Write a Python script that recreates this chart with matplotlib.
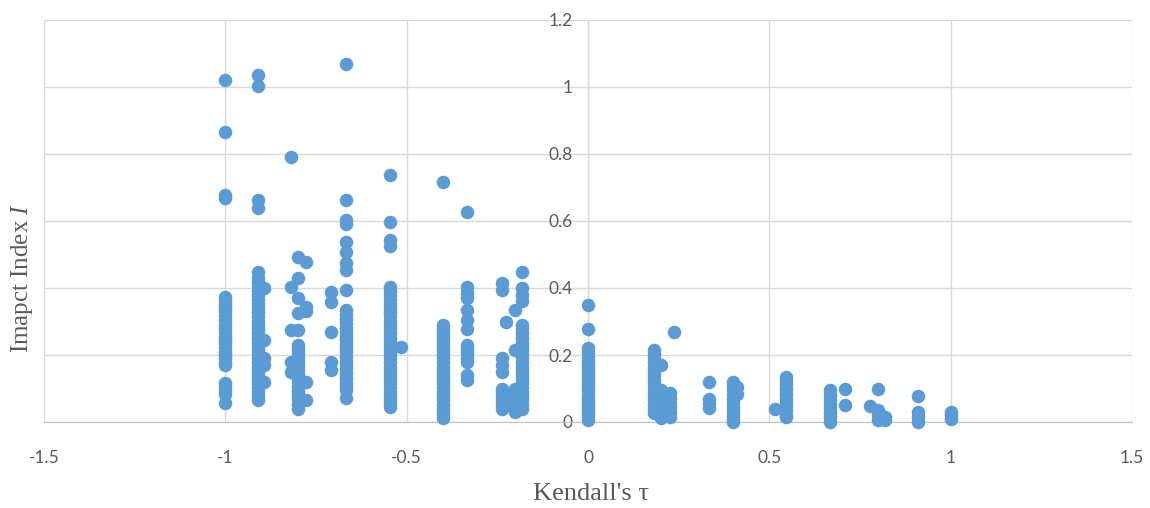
import matplotlib
matplotlib.use("Agg")
import matplotlib.pyplot as plt

# Kendall's tau columns and the impact index values.
tau_levels = [-1.0, -0.909, -0.893, -0.818, -0.8, -0.778, -0.71, -0.667,
              -0.545, -0.515, -0.4, -0.333, -0.236, -0.225, -0.2, -0.182,
              0.0, 0.182, 0.2, 0.225, 0.236, 0.333, 0.4, 0.41, 0.515,
              0.545, 0.667, 0.71, 0.778, 0.8, 0.818, 0.909, 1.0]

impact_m100 = [1.02, 0.867, 0.678, 0.669, 0.374, 0.362, 0.35, 0.34, 0.33, 0.318, 0.305,
               0.29, 0.28, 0.268, 0.255, 0.245, 0.235, 0.222, 0.21, 0.20, 0.19, 0.18,
               0.17, 0.115, 0.105, 0.095, 0.085, 0.056]
impact_m091 = [1.036, 1.004, 0.663, 0.639, 0.449, 0.43, 0.418, 0.405, 0.39, 0.378, 0.365,
               0.352, 0.34, 0.328, 0.315, 0.302, 0.29, 0.278, 0.265, 0.252, 0.24, 0.228,
               0.215, 0.202, 0.19, 0.178, 0.165, 0.152, 0.14, 0.128, 0.115, 0.102, 0.09,
               0.078, 0.066]
impact_m089 = [0.399, 0.245, 0.19, 0.17, 0.12]
impact_m082 = [0.79, 0.404, 0.275, 0.18, 0.15]
impact_m080 = [0.494, 0.43, 0.37, 0.324, 0.275, 0.23, 0.218, 0.205, 0.192, 0.18, 0.168,
               0.155, 0.142, 0.13, 0.118, 0.105, 0.092, 0.08, 0.068, 0.055, 0.04]
impact_m078 = [0.478, 0.344, 0.33, 0.12, 0.066]
impact_m071 = [0.389, 0.359, 0.27, 0.18, 0.155]
impact_m067 = [1.069, 0.663, 0.603, 0.59, 0.538, 0.508, 0.474, 0.454, 0.394, 0.334,
               0.32, 0.308, 0.295, 0.282, 0.27, 0.258, 0.245, 0.232, 0.22, 0.208, 0.195,
               0.182, 0.17, 0.158, 0.145, 0.132, 0.12, 0.108, 0.095, 0.071]
impact_m055 = [0.737, 0.598, 0.543, 0.525, 0.404, 0.39, 0.378, 0.365, 0.352, 0.34, 0.328,
               0.315, 0.302, 0.29, 0.278, 0.265, 0.252, 0.24, 0.228, 0.215, 0.202, 0.19,
               0.178, 0.165, 0.152, 0.14, 0.128, 0.115, 0.102, 0.09, 0.078, 0.065, 0.055,
               0.046]
impact_m052 = [0.225]
impact_m040 = [0.717, 0.29, 0.278, 0.265, 0.252, 0.24, 0.228, 0.215, 0.202, 0.19, 0.178,
               0.165, 0.152, 0.14, 0.128, 0.115, 0.102, 0.09, 0.078, 0.065, 0.052, 0.04,
               0.028, 0.011]
impact_m033 = [0.628, 0.404, 0.385, 0.369, 0.334, 0.304, 0.279, 0.23, 0.218, 0.205,
               0.192, 0.18, 0.14, 0.125]
impact_m024 = [0.415, 0.395, 0.19, 0.17, 0.15, 0.10, 0.09, 0.08, 0.07, 0.06, 0.05, 0.04]
impact_m023 = [0.30]
impact_m020 = [0.334, 0.215, 0.10, 0.088, 0.075, 0.062, 0.05, 0.04, 0.03]
impact_m018 = [0.449, 0.399, 0.38, 0.36, 0.29, 0.278, 0.265, 0.252, 0.24, 0.228, 0.215,
               0.202, 0.19, 0.178, 0.165, 0.152, 0.14, 0.128, 0.115, 0.102, 0.09, 0.078,
               0.065, 0.052, 0.04]
impact_p000 = [0.350, 0.277, 0.22, 0.208, 0.195, 0.182, 0.17, 0.158, 0.145, 0.132, 0.12,
               0.108, 0.095, 0.082, 0.07, 0.058, 0.045, 0.032, 0.02, 0.005]
impact_p018 = [0.215, 0.202, 0.19, 0.178, 0.165, 0.152, 0.14, 0.128, 0.115, 0.102, 0.09,
               0.078, 0.065, 0.052, 0.04, 0.026]
impact_p020 = [0.17, 0.095, 0.08, 0.065, 0.05, 0.035, 0.022, 0.012]
impact_p023 = [0.086, 0.072, 0.058, 0.045, 0.03, 0.016]
impact_p024 = [0.27]
impact_p033 = [0.12, 0.07, 0.055, 0.041]
impact_p040 = [0.12, 0.108, 0.095, 0.082, 0.07, 0.058, 0.045, 0.032, 0.02, 0.008, 0.0]
impact_p041 = [0.105, 0.085]
impact_p052 = [0.038]
impact_p055 = [0.135, 0.122, 0.11, 0.098, 0.085, 0.072, 0.06, 0.048, 0.035, 0.022, 0.016]
impact_p067 = [0.096, 0.082, 0.068, 0.055, 0.042, 0.028, 0.015, 0.001]
impact_p071 = [0.098, 0.051]
impact_p078 = [0.048]
impact_p080 = [0.098, 0.036, 0.02, 0.005]
impact_p082 = [0.016, 0.006]
impact_p091 = [0.078, 0.03, 0.015, 0.001]
impact_p100 = [0.03, 0.02, 0.01]

impact_columns = [impact_m100, impact_m091, impact_m089, impact_m082, impact_m080,
                  impact_m078, impact_m071, impact_m067, impact_m055, impact_m052,
                  impact_m040, impact_m033, impact_m024, impact_m023, impact_m020,
                  impact_m018, impact_p000, impact_p018, impact_p020, impact_p023,
                  impact_p024, impact_p033, impact_p040, impact_p041, impact_p052,
                  impact_p055, impact_p067, impact_p071, impact_p078, impact_p080,
                  impact_p082, impact_p091, impact_p100]

x_ticks = [-1.5, -1, -0.5, 0, 0.5, 1, 1.5]
x_tick_labels = ["-1.5", "-1", "-0.5", "0", "0.5", "1", "1.5"]
y_ticks = [0, 0.2, 0.4, 0.6, 0.8, 1.0, 1.2]
y_tick_labels = ["0", "0.2", "0.4", "0.6", "0.8", "1", "1.2"]

plt.rcParams["axes.unicode_minus"] = False
plt.rcParams["mathtext.fontset"] = "custom"
plt.rcParams["mathtext.rm"] = "Liberation Serif"
plt.rcParams["mathtext.it"] = "Liberation Serif:italic"

# flatten columns into x/y pairs
xs, ys = [], []
for t, col in zip(tau_levels, impact_columns):
    xs += [t] * len(col)
    ys += col

fig = plt.figure(figsize=(11.5, 5.08), dpi=100)
ax = fig.add_axes([44 / 1150, 1 - 422 / 508, 1088 / 1150, 402 / 508])

grid_c = "#D9D9D9"
text_c = "#595959"

ax.set_xlim(-1.5, 1.5)
ax.set_ylim(0, 1.2)
ax.set_xticks(x_ticks)
ax.set_xticklabels(x_tick_labels)
ax.set_yticks(y_ticks)
ax.set_yticklabels(y_tick_labels)
ax.grid(True, color=grid_c, linewidth=1.0)
ax.set_axisbelow(True)

for s in ["top", "right"]:
    ax.spines[s].set_visible(False)
ax.spines["left"].set_position(("data", 0))
ax.spines["left"].set_color(grid_c)
ax.spines["bottom"].set_color("#BFBFBF")

ax.tick_params(axis="both", length=0, labelsize=12.5, labelcolor=text_c)
ax.tick_params(axis="x", pad=20)
ax.tick_params(axis="y", pad=11)
for lab in ax.get_xticklabels() + ax.get_yticklabels():
    lab.set_fontfamily("Lato")

ax.scatter(xs, ys, s=95, color="#5B9BD5", linewidths=0, zorder=3, clip_on=False)

fig.text(591 / 1150, 1 - 494 / 508, "Kendall's τ", ha="center", va="center",
         fontsize=19, color=text_c, fontfamily="Liberation Serif")
fig.text(22 / 1150, 1 - 278 / 508, r"Imapct Index $I$", ha="center", va="center",
         rotation=90, fontsize=18, color=text_c, fontfamily="Liberation Serif")

fig.savefig("out.png", dpi=100)
